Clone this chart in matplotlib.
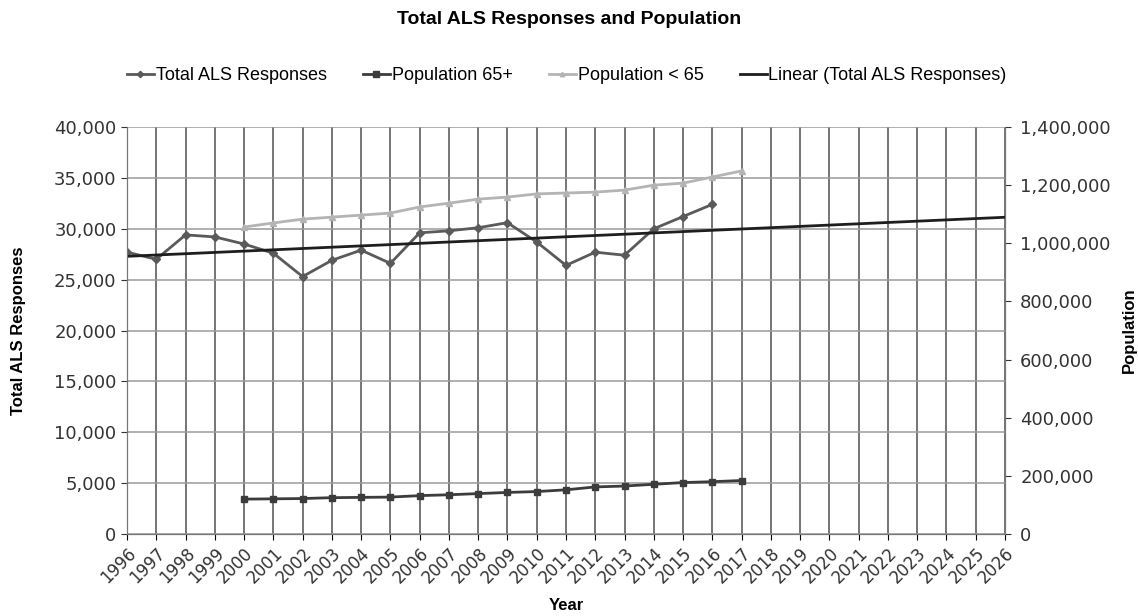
import numpy as np
import matplotlib.pyplot as plt
from matplotlib.ticker import FuncFormatter

plt.rcParams['font.family'] = ['DejaVu Sans']
NARROW = ['Liberation Sans', 'DejaVu Sans']

years_all = np.arange(1996, 2027)
als_years = np.arange(1996, 2017)
als = [27700, 27000, 29400, 29200, 28500, 27600, 25300, 26900, 27900, 26600,
       29600, 29800, 30100, 30600, 28700, 26400, 27700, 27400, 30000, 31200, 32400]
pop_years = np.arange(2000, 2018)
pop65 = [120000, 121000, 122000, 125000, 126000, 127000, 132000, 135000, 139000,
         143000, 146000, 152000, 162000, 165000, 171000, 177000, 180000, 184000]
pop_under65 = [1056000, 1070000, 1083000, 1090000, 1097000, 1104000, 1125000,
               1138000, 1152000, 1159000, 1170000, 1173000, 1176000, 1183000,
               1200000, 1207000, 1228000, 1249000]

# excel style linear trendline on the ALS series
coef = np.polyfit(als_years, als, 1)
trend = np.polyval(coef, years_all)

fig = plt.figure(figsize=(11.38, 6.16), dpi=100)
ax = fig.add_axes([0.1116, 0.1331, 0.7715, 0.6607])
ax2 = ax.twinx()

comma = FuncFormatter(lambda v, p: f"{int(v):,}")

l1, = ax.plot(als_years, als, color='#5a5a5a', lw=2, marker='D', ms=4, zorder=5)
l4, = ax.plot(years_all, trend, color='#1e1e1e', lw=2, zorder=6)
l2, = ax2.plot(pop_years, pop65, color='#3c3c3c', lw=2, marker='s', ms=5)
l3, = ax2.plot(pop_years, pop_under65, color='#b4b4b4', lw=2, marker='^', ms=4)

ax.set_xlim(1996, 2026)
ax.set_ylim(0, 40000)
ax2.set_ylim(0, 1400000)
ax.set_yticks(np.arange(0, 40001, 5000))
ax2.set_yticks(np.arange(0, 1400001, 200000))
ax.yaxis.set_major_formatter(comma)
ax2.yaxis.set_major_formatter(comma)
ax.set_xticks(years_all)
ax.set_xticklabels([str(y) for y in years_all], rotation=45, ha='right',
                   rotation_mode='anchor', fontsize=12, color='#333333')
ax.tick_params(axis='y', labelsize=13, colors='#333333', length=4)
ax2.tick_params(axis='y', labelsize=13, colors='#333333', length=4, pad=7)
ax.tick_params(axis='x', length=4)

ax.grid(axis='x', color='#505050', lw=1.1)
ax.grid(axis='y', color='#9a9a9a', lw=1.1)
ax.set_axisbelow(True)
for a in (ax, ax2):
    a.spines['top'].set_visible(False)
    a.spines['left'].set_color('#777777')
    a.spines['right'].set_color('#777777')
    a.spines['bottom'].set_color('#777777')

ax.set_xlabel('Year', fontsize=12, fontweight='bold', labelpad=8, family=NARROW)
ax.set_ylabel('Total ALS Responses', fontsize=12, fontweight='bold', labelpad=20, family=NARROW)
fig.text(1129 / 1138, 1 - 330 / 616, 'Population', rotation=90, ha='center', va='center',
         fontsize=12, fontweight='bold', family=NARROW)

fig.suptitle('Total ALS Responses and Population', y=0.982, fontsize=14,
             fontweight='bold', family=NARROW)
fig.legend([l1, l2, l3, l4],
           ['Total ALS Responses', 'Population 65+', 'Population < 65', 'Linear (Total ALS Responses)'],
           loc='center', bbox_to_anchor=(0.498, 0.877), ncol=4, frameon=False,
           prop={'family': NARROW, 'size': 13}, handlelength=1.5, handletextpad=0.1,
           columnspacing=2.0, markerscale=0.8)

fig.savefig('out.png', dpi=100)
